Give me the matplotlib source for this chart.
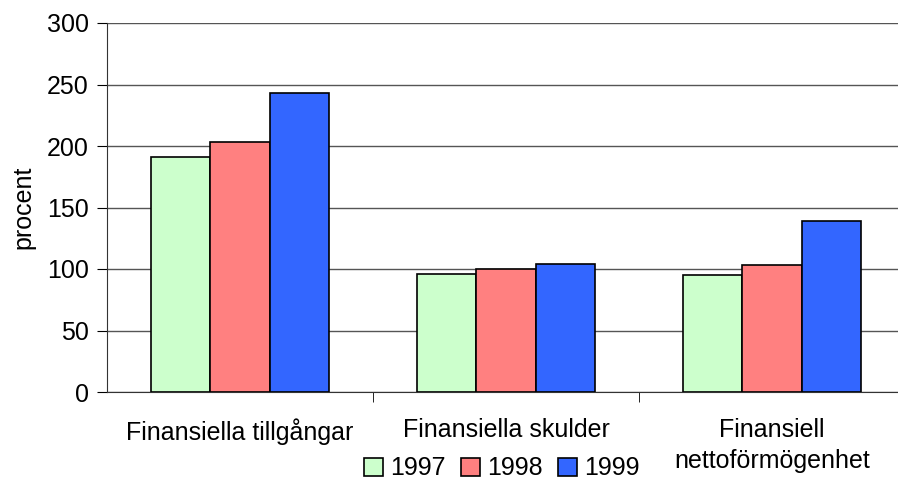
import matplotlib
matplotlib.use('Agg')
from matplotlib import pyplot as plt
import numpy as np

plt.rcParams['font.family'] = ['Liberation Sans', 'DejaVu Sans']

categories = ['Finansiella tillgångar', 'Finansiella skulder', 'Finansiell\nnettoförmögenhet']
years = ['1997', '1998', '1999']
v1997 = [191, 96, 95]
v1998 = [203, 100, 103]
v1999 = [243, 104, 139]
colors = ['#CCFFCC', '#FF8080', '#3366FF']

fig = plt.figure(figsize=(8.98, 4.82), dpi=100)
ax = fig.add_axes([107/898, 90/482, 798/898, 369/482])

x = np.arange(len(categories))
w = 0.222
for i, (vals, lab) in enumerate(zip([v1997, v1998, v1999], years)):
    ax.bar(x + (i - 1) * w, vals, w, color=colors[i], edgecolor='black',
           linewidth=1.2, label=lab, zorder=3)

ax.set_xlim(-0.5, 2.5)
ax.set_ylim(0, 300)
ax.set_yticks(range(0, 301, 50))
ax.yaxis.grid(True, color='#555555', linewidth=1, zorder=0)
ax.set_xticks(x)
ax.set_xticklabels(categories, linespacing=1.35)
ax.set_xticks([0.5, 1.5], minor=True)
ax.tick_params(axis='x', which='major', length=0, pad=19, labelsize=18)
ax.tick_params(axis='x', which='minor', length=7, direction='out')
ax.tick_params(axis='y', length=7, direction='out', labelsize=18, pad=6)
ax.set_ylabel('procent', fontsize=18, labelpad=8)
for s in ['top', 'right']:
    ax.spines[s].set_visible(False)
ax.spines['left'].set_color('#333333')
ax.spines['bottom'].set_color('#333333')

ax.legend(loc='center', bbox_to_anchor=(0.495, -0.207), ncol=3, frameon=False,
          fontsize=18, handlelength=0.75, handleheight=0.75, handletextpad=0.3,
          columnspacing=0.6, borderpad=0)

plt.savefig('out.png', dpi=100)
